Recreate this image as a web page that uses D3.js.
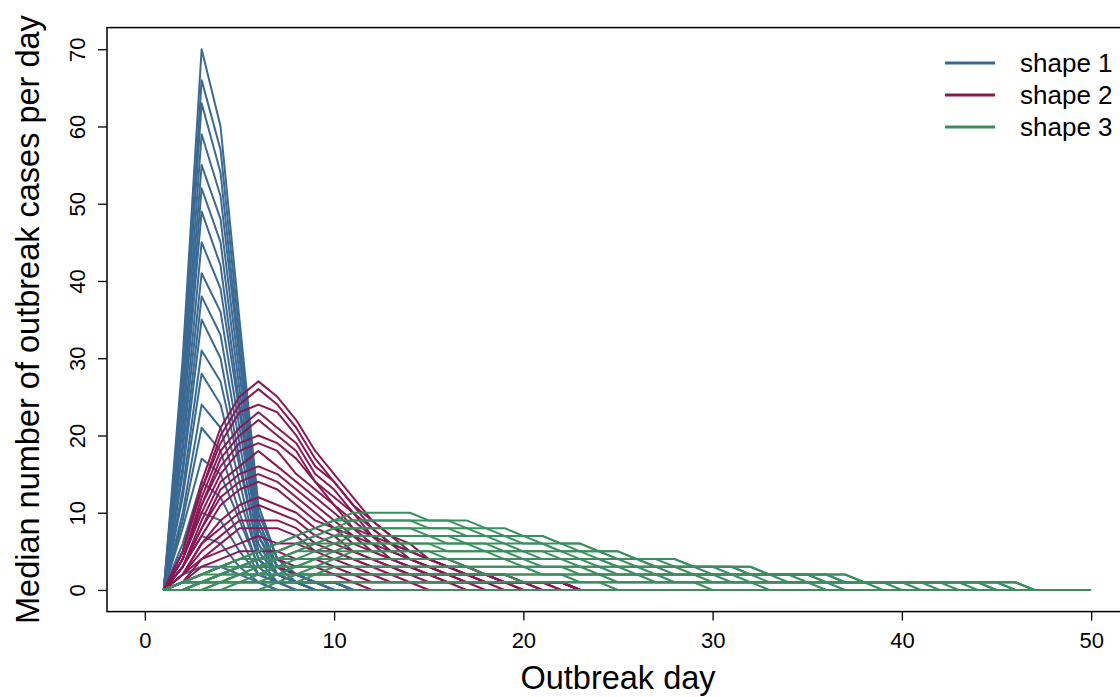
<!DOCTYPE html>
<html><head><meta charset="utf-8">
<script src="https://cdn.jsdelivr.net/npm/d3@7/dist/d3.min.js"></script>
<style>
body{margin:0;background:#fff}
svg{display:block}
text{font-family:"Liberation Sans",Arial,sans-serif;fill:#000}
</style>
</head><body>
<svg id="chart" width="1120" height="697"></svg>
<script>
// Median cases per day, each series starts at outbreak day 1
const shape1 = [
  [0,2,3,3,2,1,0],
  [0,3,7,6,3,1,0],
  [0,4,10,9,5,2,1,0],
  [0,6,14,12,7,2,1,0],
  [0,8,17,15,9,3,1,1,0],
  [0,9,21,18,10,3,1,1,0],
  [0,10,24,21,12,4,1,1,0],
  [0,12,28,24,14,4,2,1,0],
  [0,13,31,27,16,5,2,1,0],
  [0,15,35,30,17,5,2,1,1,0],
  [0,16,38,33,19,6,2,1,1,0],
  [0,18,41,36,21,7,2,1,1,0],
  [0,19,45,39,23,7,3,1,1,0],
  [0,21,49,42,24,8,3,1,1,1,0],
  [0,22,52,45,26,8,3,2,1,1,0],
  [0,24,55,48,28,9,3,2,1,1,0],
  [0,25,59,51,30,9,3,2,1,1,0],
  [0,27,63,54,31,10,4,2,1,1,0],
  [0,28,66,57,33,10,4,2,1,1,0],
  [0,30,70,60,35,11,4,2,1,1,0]
];
const shape2 = [
  [0,0,1,1,1,1,1,1,1,1,1,0],
  [0,1,1,2,3,3,3,2,2,2,1,1,1,1,0],
  [0,1,2,3,4,4,4,3,3,2,2,1,1,1,1,1,0],
  [0,1,3,4,5,5,5,4,4,3,2,2,1,1,1,1,1,0],
  [0,1,4,5,6,7,6,6,5,4,3,2,2,1,1,1,1,1,0],
  [0,2,4,6,8,8,8,7,5,5,4,3,2,2,1,1,1,1,1,0],
  [0,2,5,7,9,9,9,8,6,5,4,3,3,2,2,1,1,1,1,0],
  [0,2,6,8,10,11,10,9,7,6,5,4,3,2,2,1,1,1,1,1,0],
  [0,2,6,9,11,12,11,10,8,7,5,4,3,3,2,2,1,1,1,1,0],
  [0,3,7,11,13,14,13,11,9,8,6,5,4,3,2,2,1,1,1,1,1,0],
  [0,3,8,12,14,15,14,12,10,8,7,5,4,3,2,2,2,1,1,1,1,0],
  [0,3,8,13,15,16,15,13,11,9,7,6,4,3,3,2,2,1,1,1,1,1,0],
  [0,3,9,14,16,18,16,14,12,10,8,6,5,4,3,2,2,1,1,1,1,1,0],
  [0,4,10,15,18,19,18,15,13,11,8,7,5,4,3,2,2,2,1,1,1,1,0],
  [0,4,11,16,19,20,19,17,14,11,9,7,5,4,3,3,2,2,1,1,1,1,0],
  [0,4,11,17,20,22,20,18,14,12,10,7,6,4,4,3,2,2,1,1,1,1,0],
  [0,4,12,18,21,23,21,19,15,13,10,8,6,5,4,3,2,2,1,1,1,1,0],
  [0,5,13,19,23,24,23,20,16,14,11,8,6,5,4,3,3,2,2,1,1,1,0],
  [0,5,13,20,24,26,24,21,17,14,11,9,7,5,4,3,3,2,2,1,1,1,0],
  [0,5,14,21,25,27,25,22,18,15,12,9,7,6,4,4,3,2,2,1,1,1,0]
];
const shape3 = [
  [0,0,0,0,0,0,0,0,0,0,0,0,0,0,0,0,0,0,0,0,0,0,0,0,0,0,0,0,0,0,0,0,0,0,0,0,0,0,0,0,0,0,0,0,0,0,0,0,0,0],
  [0,0,0,0,0,0,1,1,1,1,1,1,1,1,1,1,1,1,1,1,1,1,1,1,0],
  [0,0,0,0,1,1,1,1,1,1,1,1,1,1,1,1,1,1,1,1,1,1,1,1,1,1,1,1,1,0],
  [0,0,0,1,1,1,1,1,2,2,2,2,2,2,2,2,2,2,2,1,1,1,1,1,1,1,1,1,1,1,1,1,0],
  [0,0,0,1,1,1,1,2,2,2,2,2,2,2,2,2,2,2,2,2,2,2,1,1,1,1,1,1,1,1,1,1,1,1,1,0],
  [0,0,1,1,1,1,2,2,2,3,3,3,3,3,3,3,3,2,2,2,2,2,2,2,1,1,1,1,1,1,1,1,1,1,1,1,0],
  [0,0,1,1,1,2,2,2,3,3,3,3,3,3,3,3,3,3,3,3,2,2,2,2,2,2,1,1,1,1,1,1,1,1,1,1,1,1,0],
  [0,0,1,1,2,2,2,3,3,4,4,4,4,4,4,4,3,3,3,3,3,3,2,2,2,2,2,1,1,1,1,1,1,1,1,1,1,1,1,0],
  [0,0,1,1,2,2,3,3,4,4,4,4,4,4,4,4,4,4,4,3,3,3,3,2,2,2,2,2,2,1,1,1,1,1,1,1,1,1,1,1,0],
  [0,0,1,1,2,2,3,3,4,4,5,5,5,5,5,4,4,4,4,4,3,3,3,3,2,2,2,2,2,2,1,1,1,1,1,1,1,1,1,1,1,0],
  [0,1,1,2,2,3,3,4,4,5,5,5,5,5,5,5,5,5,4,4,4,4,3,3,3,2,2,2,2,2,2,1,1,1,1,1,1,1,1,1,1,1,0],
  [0,1,1,2,2,3,4,4,5,5,6,6,6,6,6,5,5,5,5,4,4,4,4,3,3,3,2,2,2,2,2,2,1,1,1,1,1,1,1,1,1,1,1,0],
  [0,1,1,2,3,3,4,5,5,6,6,6,6,6,6,6,6,5,5,5,4,4,4,4,3,3,3,2,2,2,2,2,2,1,1,1,1,1,1,1,1,1,1,1,0],
  [0,1,1,2,3,3,4,5,6,6,7,7,7,7,7,6,6,6,5,5,5,4,4,4,3,3,3,3,2,2,2,2,2,2,1,1,1,1,1,1,1,1,1,1,0],
  [0,1,1,2,3,4,4,5,6,7,7,7,7,7,7,7,6,6,6,5,5,5,4,4,4,3,3,3,3,2,2,2,2,2,2,1,1,1,1,1,1,1,1,1,1,0],
  [0,1,2,2,3,4,5,6,6,7,8,8,8,8,7,7,7,7,6,6,6,5,5,4,4,4,3,3,3,3,2,2,2,2,2,1,1,1,1,1,1,1,1,1,1,0],
  [0,1,2,3,3,4,5,6,7,8,8,8,8,8,8,8,7,7,7,6,6,5,5,5,4,4,3,3,3,3,3,2,2,2,2,2,1,1,1,1,1,1,1,1,1,1,0],
  [0,1,2,3,4,4,5,6,7,8,9,9,9,9,8,8,8,7,7,7,6,6,5,5,4,4,4,3,3,3,3,2,2,2,2,2,1,1,1,1,1,1,1,1,1,1,0],
  [0,1,2,3,4,5,6,7,8,9,9,9,9,9,9,9,8,8,7,7,7,6,6,5,5,4,4,4,3,3,3,3,2,2,2,2,2,1,1,1,1,1,1,1,1,1,0],
  [0,1,2,3,4,5,6,7,8,9,10,10,10,10,9,9,9,8,8,7,7,6,6,5,5,4,4,4,3,3,3,3,2,2,2,2,2,1,1,1,1,1,1,1,1,1,0]
];
const seriesNames = ["shape 1", "shape 2", "shape 3"];
const seriesColors = ["#3a6a94", "#8c1753", "#3a8f5e"];
const xTicks = [0, 10, 20, 30, 40, 50];
const yTicks = [0, 10, 20, 30, 40, 50, 60, 70];
const xLabel = "Outbreak day";
const yLabel = "Median number of outbreak cases per day";

const svg = d3.select("#chart");
const x = d3.scaleLinear().domain([-2, 52]).range([107, 1129]);
const y = d3.scaleLinear().domain([-2.8, 72.8]).range([611.6, 27.6]);

const line = d3.line().x((d, i) => x(i + 1)).y(d => y(d));

const groups = [shape1, shape2, shape3];
groups.forEach((set, gi) => {
  svg.append("g")
    .selectAll("path").data(set).join("path")
    .attr("d", line)
    .attr("fill", "none")
    .attr("stroke", seriesColors[gi])
    .attr("stroke-width", 2)
    .attr("stroke-linejoin", "round");
});

// plot box
svg.append("rect")
  .attr("x", x.range()[0]).attr("y", y.range()[1])
  .attr("width", x.range()[1] - x.range()[0])
  .attr("height", y.range()[0] - y.range()[1])
  .attr("fill", "none").attr("stroke", "#000").attr("stroke-width", 1.5);

// x axis
const xAxis = svg.append("g")
  .attr("transform", `translate(0,${y.range()[0]})`)
  .call(d3.axisBottom(x).tickValues(xTicks).tickSize(9).tickPadding(12).tickFormat(d3.format("d")));
xAxis.select(".domain").remove();
xAxis.selectAll("line").attr("stroke", "#000").attr("stroke-width", 1.3);
xAxis.selectAll("text").attr("font-size", 22).attr("font-family", "Liberation Sans, Arial, sans-serif");

// y axis
const yAxis = svg.append("g")
  .attr("transform", `translate(${x.range()[0]},0)`)
  .call(d3.axisLeft(y).tickValues(yTicks).tickSize(9).tickFormat(d3.format("d")));
yAxis.select(".domain").remove();
yAxis.selectAll("line").attr("stroke", "#000").attr("stroke-width", 1.3);
yAxis.selectAll("text")
  .attr("font-size", 22).attr("font-family", "Liberation Sans, Arial, sans-serif")
  .attr("x", null).attr("dy", null)
  .attr("text-anchor", "middle")
  .attr("transform", "translate(-22,0) rotate(-90)")
  .attr("y", 0);

// axis titles
svg.append("text")
  .attr("x", (107 + 1129) / 2).attr("y", 689)
  .attr("text-anchor", "middle").attr("font-size", 32.5)
  .text(xLabel);
svg.append("text")
  .attr("transform", `translate(39,${(611.6 + 27.6) / 2}) rotate(-90)`)
  .attr("text-anchor", "middle").attr("font-size", 32.5)
  .text(yLabel);

// legend
const leg = svg.append("g");
seriesNames.forEach((n, i) => {
  const ly = 63 + i * 32;
  leg.append("line").attr("x1", 945).attr("x2", 995).attr("y1", ly).attr("y2", ly)
    .attr("stroke", seriesColors[i]).attr("stroke-width", 3);
  leg.append("text").attr("x", 1020).attr("y", ly + 9).attr("font-size", 26).text(n);
});
</script>
</body></html>
